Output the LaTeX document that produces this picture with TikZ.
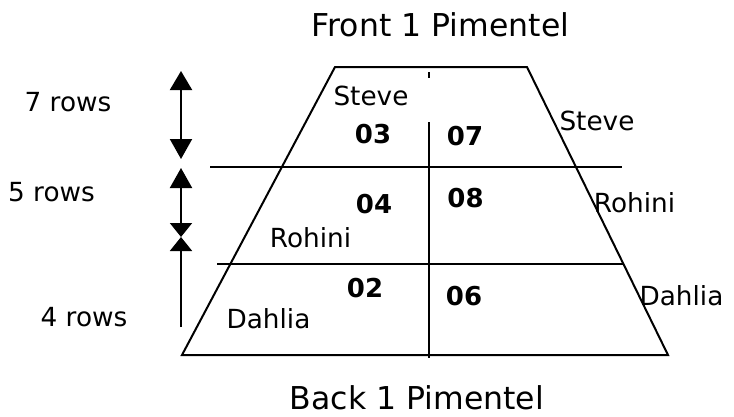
\documentclass[tikz,border=0pt]{standalone}
\usepackage{fontspec}
\setmainfont{DejaVu Sans}
\usetikzlibrary{arrows.meta}
\begin{document}
\begin{tikzpicture}[x=1pt,y=-1pt,
  ln/.style={line width=2pt},
  title/.style={anchor=base,inner sep=0pt,font=\fontsize{31.5}{36}\selectfont},
  lbl/.style={anchor=base,inner sep=0pt,font=\fontsize{26.3}{30}\selectfont},
  num/.style={anchor=base,inner sep=0pt,font=\fontsize{26}{30}\selectfont\bfseries},
  dimarrow/.style={line width=2pt}]
\useasboundingbox (0,0) rectangle (734,416);
% trapezoid
\coordinate (tl) at (335,67);
\coordinate (tr) at (527,67);
\coordinate (br) at (668,355);
\coordinate (bl) at (182,355);
\draw[ln] (tl) -- (tr) -- (br) -- (bl) -- cycle;
% horizontal rows
\coordinate (h1a) at (210,167); \coordinate (h1b) at (622,167);
\coordinate (h2a) at (217,264); \coordinate (h2b) at (623,264);
\draw[ln] (h1a) -- (h1b);
\draw[ln] (h2a) -- (h2b);
% vertical divider
\coordinate (tka) at (429,72); \coordinate (tkb) at (429,78);
\coordinate (va) at (429,122); \coordinate (vb) at (429,358);
\draw[ln] (tka) -- (tkb);
\draw[ln] (va) -- (vb);
% dimension arrows
\coordinate (a1) at (181,71); \coordinate (a2) at (181,159);
\coordinate (b1) at (181,168); \coordinate (b2) at (181,237);
\coordinate (c1) at (181,327);
\draw[dimarrow,{Triangle[width=22pt,length=19pt]}-{Triangle[width=22pt,length=20pt]}] (a1) -- (a2);
\draw[dimarrow,{Triangle[width=22pt,length=20pt]}-{Triangle[width=22pt,length=14pt]}] (b1) -- (b2);
\draw[dimarrow,-{Triangle[width=22pt,length=14pt]}] (c1) -- (b2);
% titles
\node[title] (front) at (440.5,36) {Front 1 Pimentel};
\node[title] (back) at (417,409.5) {Back 1 Pimentel};
% row labels
\node[lbl] (r7) at (68,111) {7 rows};
\node[lbl] (r5) at (51.5,201) {5 rows};
\node[lbl] (r4) at (84,326) {4 rows};
% names
\node[lbl] (steveL) at (371,105) {Steve};
\node[lbl] (steveR) at (597,130) {Steve};
\node[lbl] (rohiniR) at (634.5,212) {Rohini};
\node[lbl] (dahliaR) at (681.5,305) {Dahlia};
\node[lbl] (rohiniL) at (310.5,247) {Rohini};
\node[lbl] (dahliaL) at (268.5,328) {Dahlia};
% numbers
\node[num] (n03) at (373,143) {03};
\node[num] (n07) at (465,145) {07};
\node[num] (n04) at (374,213) {04};
\node[num] (n08) at (465.5,207) {08};
\node[num] (n02) at (365,297) {02};
\node[num] (n06) at (464,305) {06};
\end{tikzpicture}
\end{document}
